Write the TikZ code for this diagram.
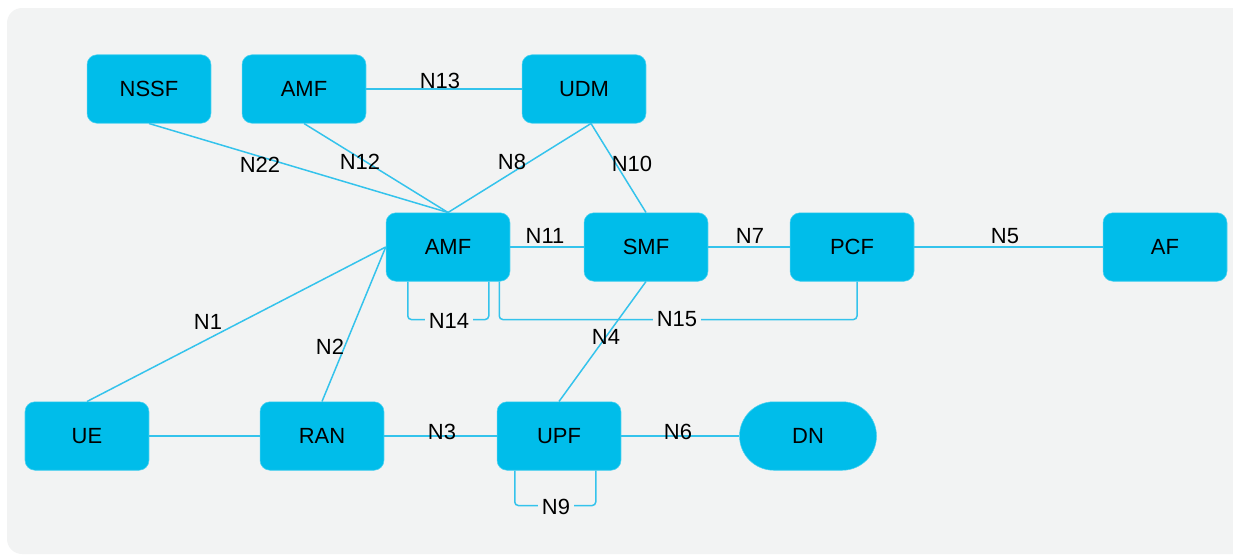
\documentclass[tikz,border=0pt]{standalone}
\usepackage{fontspec}
\setmainfont{Liberation Sans}
\usepackage{tikz}
\usetikzlibrary{calc, positioning, shapes.misc}

\definecolor{nfcyan}{RGB}{0,189,234}
\definecolor{linkcyan}{RGB}{52,195,236}
\definecolor{panelgray}{RGB}{242,243,243}

\begin{document}
\begin{tikzpicture}[x=0.02cm, y=-0.02cm,
	nf/.style={fill=nfcyan, draw=nfcyan!70!white, line width=0.3pt, rounded corners=0.2cm, minimum width=2.48cm, minimum height=1.37cm, inner sep=0pt, font=\fontsize{12.5}{14}\selectfont},
	dnbox/.style={nf, sharp corners, rounded rectangle, rounded rectangle arc length=180, minimum width=2.74cm},
	link/.style={draw=linkcyan, line width=0.85pt},
	lbl/.style={inner sep=1pt, font=\fontsize{12.5}{14}\selectfont},
	gaplbl/.style={lbl, fill=panelgray, inner sep=2pt}]
		
		%//canvas 1233 x 555
		\clip (0,0) rectangle (1233,555);
		\fill [panelgray, rounded corners=0.3cm] (7,8) rectangle (1270,554);
		
		%//network functions
		\node [nf] (nssf) at (149,89) {NSSF};
		\node [nf] (amftop) at (304,89) {AMF};
		\node [nf] (udm) at (584,89) {UDM};
		\node [nf] (amf) at (448,247) {AMF};
		\node [nf] (smf) at (646,247) {SMF};
		\node [nf] (pcf) at (852,247) {PCF};
		\node [nf] (af) at (1165,247) {AF};
		\node [nf] (ue) at (87,436) {UE};
		\node [nf] (ran) at (322,436) {RAN};
		\node [nf] (upf) at (559,436) {UPF};
		\node [dnbox] (dn) at (808,436) {DN};
		
		\coordinate (udmfoot) at ($(udm.south)+(7,0)$);
		
		%//reference points
		\draw [link] (nssf.south) -- (amf.north);
		\draw [link] (amftop.south) -- (amf.north);
		\draw [link] (amftop.east) -- (udm.west);
		\draw [link] (udmfoot) -- (amf.north);
		\draw [link] (udmfoot) -- (smf.north);
		\draw [link] (amf.east) -- (smf.west);
		\draw [link] (smf.east) -- (pcf.west);
		\draw [link] (pcf.east) -- (af.west);
		\draw [link] (ue.north) -- (amf.west);
		\draw [link] (ran.north) -- (amf.west);
		\draw [link] (ue.east) -- (ran.west);
		\draw [link] (ran.east) -- (upf.west);
		\draw [link] (upf.east) -- (dn.west);
		\draw [link] (smf.south) -- (upf.north);
		
		\draw [link, rounded corners=2pt] ($(amf.south west)+(22,0)$) -- ++(0,38) -- ++(81,0) -- ++(0,-38);
		\draw [link, rounded corners=2pt] ($(amf.south east)+(-11,0)$) -- ++(0,38) -- ($(pcf.south)+(5,38)$) -- ($(pcf.south)+(5,0)$);
		\draw [link, rounded corners=2pt] ($(upf.south west)+(18,0)$) -- ++(0,35) -- ++(81,0) -- ++(0,-35);
		
		%//labels
		\node [lbl] (l22) at (260,165) {N22};
		\node [lbl] (l12) at (360,162) {N12};
		\node [lbl] (l8) at (512,162) {N8};
		\node [lbl] (l10) at (632,164) {N10};
		\node [lbl] (l13) at (440,81) {N13};
		\node [lbl] (l11) at (545,236) {N11};
		\node [lbl] (l7) at (750,236) {N7};
		\node [lbl] (l5) at (1005,236) {N5};
		\node [lbl] (l1) at (208,322) {N1};
		\node [lbl] (l2) at (330,347) {N2};
		\node [lbl] (l4) at (606,337) {N4};
		\node [lbl] (l3) at (442,432) {N3};
		\node [lbl] (l6) at (678,432) {N6};
		\node [gaplbl] (l14) at (449,321) {N14};
		\node [gaplbl] (l15) at (677,319) {N15};
		\node [gaplbl] (l9) at (556,507) {N9};
		
		\end{tikzpicture}
\end{document}
